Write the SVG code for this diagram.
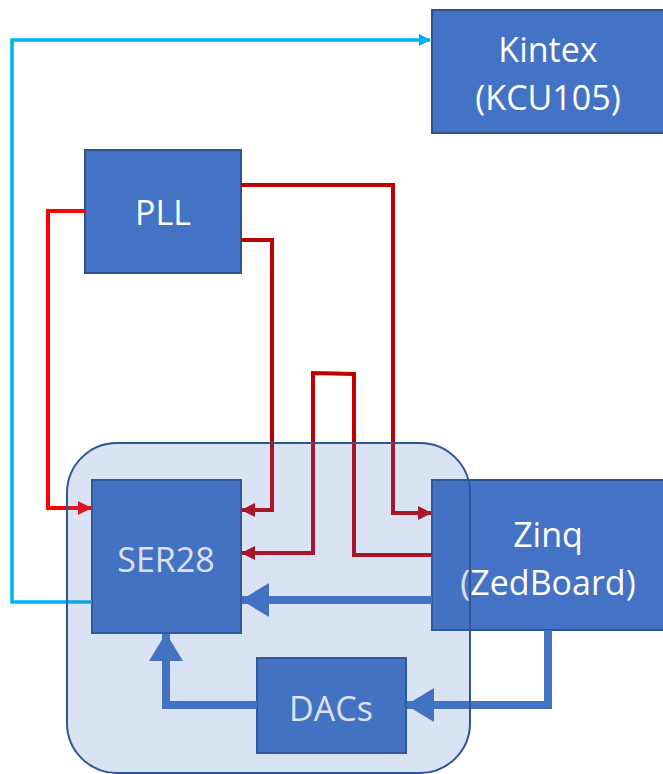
<svg xmlns="http://www.w3.org/2000/svg" width="663" height="774" viewBox="0 0 663 774">
<style>
.box{fill:#4472C4;stroke:#2F528F;stroke-width:2}
.lbl{font-family:"Open Sans","Liberation Sans",sans-serif;font-size:34px;fill:#fff;text-anchor:middle}
.cy{fill:none;stroke:#00B0F0;stroke-width:3.5}
.rd{fill:none;stroke:#FF0000;stroke-width:4}
.dr{fill:none;stroke:#C00000;stroke-width:4}
.bl{fill:none;stroke:#4472C4;stroke-width:8}
</style>
<defs>
<marker id="aCy" markerUnits="userSpaceOnUse" markerWidth="12" markerHeight="12" refX="11" refY="6" orient="auto"><path d="M0,0 L12,6 L0,12 Z" fill="#00B0F0"/></marker>
<marker id="aRd" markerUnits="userSpaceOnUse" markerWidth="14" markerHeight="14" refX="13" refY="7" orient="auto"><path d="M0,0 L14,7 L0,14 Z" fill="#FF0000"/></marker>
<marker id="aDr" markerUnits="userSpaceOnUse" markerWidth="14" markerHeight="14" refX="13" refY="7" orient="auto"><path d="M0,0 L14,7 L0,14 Z" fill="#C00000"/></marker>
<marker id="aBl" markerUnits="userSpaceOnUse" markerWidth="28" markerHeight="34" refX="27" refY="17" orient="auto"><path d="M0,0 L28,17 L0,34 Z" fill="#4472C4"/></marker>
</defs>
<g id="kintex"><rect class="box" x="432" y="10" width="240" height="123"/><text class="lbl" x="548" y="62">Kintex</text><text class="lbl" x="548" y="110">(KCU105)</text></g>
<g id="pll"><rect class="box" x="85" y="150" width="156" height="123"/><text class="lbl" x="163" y="225">PLL</text></g>
<g id="ser28"><rect class="box" x="92" y="480" width="149" height="153"/><text class="lbl" x="166" y="572">SER28</text></g>
<g id="zinq"><rect class="box" x="432" y="480" width="240" height="150"/><text class="lbl" x="548" y="547">Zinq</text><text class="lbl" x="548" y="595">(ZedBoard)</text></g>
<g id="dacs"><rect class="box" x="257" y="658" width="149" height="95"/><text class="lbl" x="331" y="721">DACs</text></g>
<g id="connectors">
<path class="cy" d="M92,602 H12 V40 H430" marker-end="url(#aCy)"/>
<path class="rd" d="M85,211 H48 V508 H91" marker-end="url(#aRd)"/>
<path class="dr" d="M241,185 H393 V513 H431" marker-end="url(#aDr)"/>
<path class="dr" d="M241,240 H272 V510 H242" marker-end="url(#aDr)"/>
<path class="dr" d="M432,555 H354 V374 L313,373 V553 H242" marker-end="url(#aDr)"/>
<path class="bl" d="M432,600 H242" marker-end="url(#aBl)"/>
<path class="bl" d="M548,630 V705 H407" marker-end="url(#aBl)"/>
<path class="bl" d="M257,705 H166 V634" marker-end="url(#aBl)"/>
</g>
<g id="container"><rect x="67" y="443" width="403" height="330" rx="50" ry="50" fill="#4472C4" fill-opacity="0.2" stroke="#2F5597" stroke-width="2"/></g>
</svg>
